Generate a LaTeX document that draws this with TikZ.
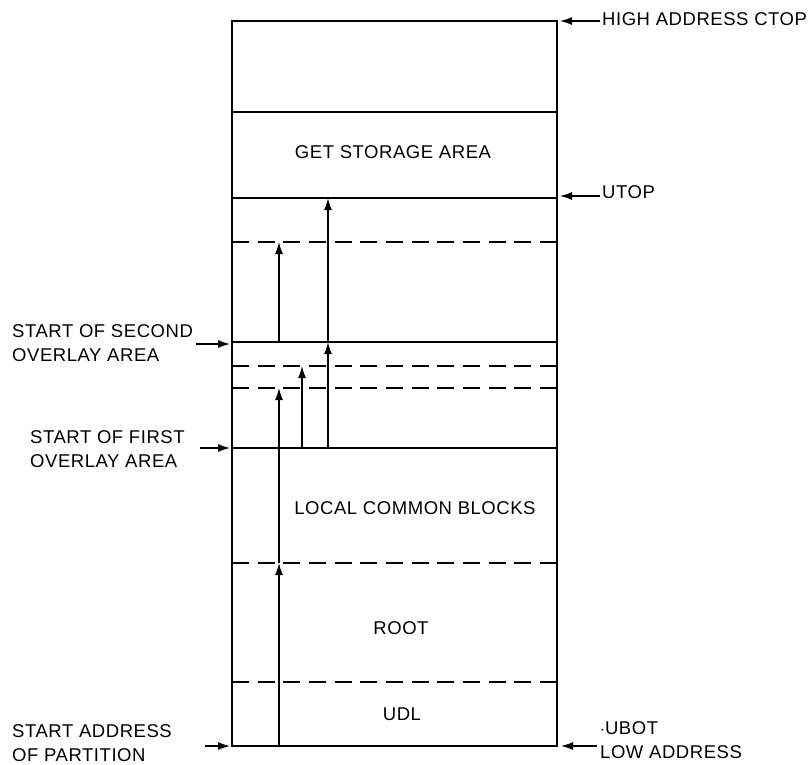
\documentclass[tikz,border=0pt]{standalone}
\usepackage{fontspec}
\setmainfont[LetterSpace=3]{Liberation Sans}
\usetikzlibrary{arrows.meta}
\tikzset{
  membox/.style={line width=2.8pt},
  solidline/.style={line width=1.7pt},
  dashline/.style={line width=2.2pt, dash pattern=on 17pt off 8.67pt},
  ptr/.style={line width=1.3pt, -{Latex[length=12pt,width=8pt]}},
  lbl/.style={font=\fontsize{18.5}{24}\selectfont, inner sep=0pt},
  lbll/.style={lbl, anchor=west, align=left},
}
\begin{document}
\begin{tikzpicture}[x=1pt,y=-1pt]
\useasboundingbox (0,0) rectangle (809,764);
% box corners
\coordinate (tl) at (232,21);
\coordinate (br) at (557,746);
\draw[membox] (tl) rectangle (br);
% horizontal lines
\foreach \y/\n in {112/a,198/b,342/c,448/d}{
  \draw[solidline] (232,\y) coordinate (L\n) -- (557,\y) coordinate (R\n);
}
\foreach \y/\n in {242/e,366/f,388/g,563/h,682/i}{
  \draw[dashline] (232,\y) coordinate (L\n) -- (557,\y) coordinate (R\n);
}
% vertical pointers
\coordinate (p1) at (279,746);
\coordinate (p2) at (279,563);
\coordinate (p3) at (279,388);
\coordinate (p4) at (279,342);
\coordinate (p5) at (279,242);
\coordinate (q1) at (302,448);
\coordinate (q2) at (302,366);
\coordinate (r1) at (328,448);
\coordinate (r2) at (328,342);
\coordinate (r3) at (328,198);
\draw[ptr] (p1) -- (p2);
\draw[ptr] (p2) -- (p3);
\draw[ptr] (p4) -- (p5);
\draw[ptr] (q1) -- (q2);
\draw[ptr] (r1) -- (r2);
\draw[ptr] (r2) -- (r3);
% texts inside
\node[lbl] (gsa) at (393,152) {GET STORAGE AREA};
\node[lbl] (lcb) at (415,508) {LOCAL COMMON BLOCKS};
\node[lbl] (root) at (401,628) {ROOT};
\node[lbl] (udl) at (402,714) {UDL};
% right labels
\node[lbl, anchor=west] (ctop) at (602,19) {HIGH ADDRESS CTOP};
\node[lbl, anchor=west] (utop) at (602,192) {UTOP};
\node[lbll] (ubot) at (600,740) {$\cdot$UBOT\\LOW ADDRESS};
\coordinate (ctopa) at (600,21);
\coordinate (ctopb) at (560,21);
\coordinate (utopa) at (600,196);
\coordinate (utopb) at (560,196);
\coordinate (ubota) at (597,746);
\coordinate (ubotb) at (561,746);
\draw[ptr] (ctopa) -- (ctopb);
\draw[ptr] (utopa) -- (utopb);
\draw[ptr] (ubota) -- (ubotb);
% left labels
\node[lbll] (sec) at (12,343) {START OF SECOND\\OVERLAY AREA};
\node[lbll] (fir) at (30,449) {START OF FIRST\\OVERLAY AREA};
\node[lbll] (sap) at (12,743) {START ADDRESS\\OF PARTITION};
\coordinate (seca) at (196,344);
\coordinate (secb) at (230,344);
\coordinate (fira) at (200,448);
\coordinate (firb) at (230,448);
\coordinate (sapa) at (205,746);
\coordinate (sapb) at (230,746);
\draw[ptr] (seca) -- (secb);
\draw[ptr] (fira) -- (firb);
\draw[ptr] (sapa) -- (sapb);
\end{tikzpicture}
\end{document}
